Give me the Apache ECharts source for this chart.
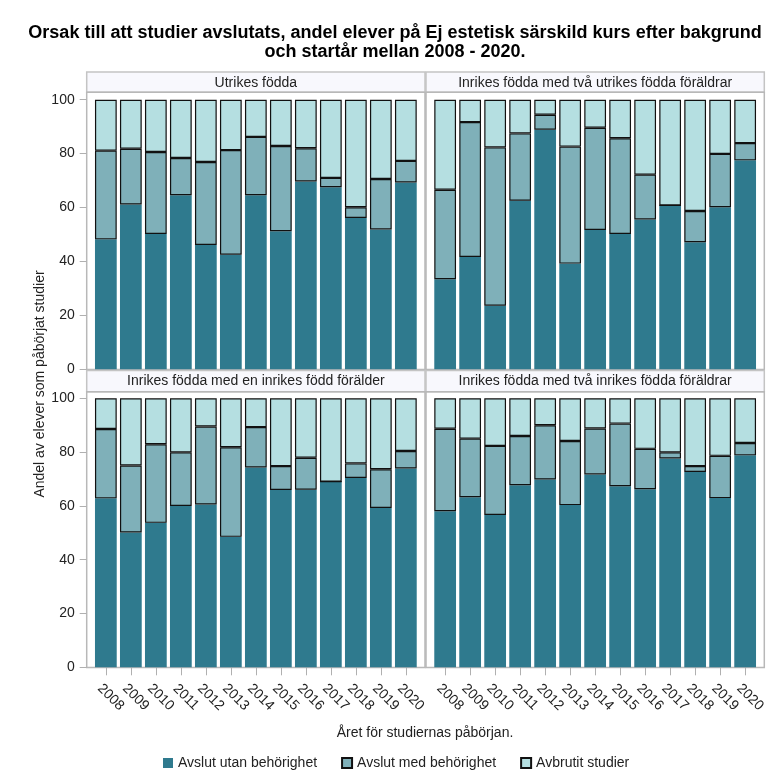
<!DOCTYPE html>
<html><head><meta charset="utf-8">
<script src="https://cdn.jsdelivr.net/npm/echarts@6/dist/echarts.min.js"></script>
<style>html,body{margin:0;padding:0;background:#fff}#c{width:774px;height:774px}</style>
</head><body><div id="c"></div>
<script>
const years = ['2008','2009','2010','2011','2012','2013','2014','2015','2016','2017','2018','2019','2020'];
const panelTitles = ['Utrikes födda','Inrikes födda med två utrikes födda föräldrar','Inrikes födda med en inrikes född förälder','Inrikes födda med två inrikes födda föräldrar'];
const seriesNames = ['Avslut utan behörighet','Avslut med behörighet','Avbrutit studier'];
const yTicks = [0,20,40,60,80,100];

// Utrikes födda
const utanUF = [48.2,61.1,50.2,64.6,46.1,42.5,64.6,51.2,69.7,67.5,56.1,51.9,69.3];
const medUF  = [32.9,20.7,30.4,13.8,30.8,38.8,21.6,31.6,12.3,3.5,4.0,18.7,8.0];
const avbrUF = [18.9,18.2,19.4,21.6,23.1,18.7,13.8,17.2,18.0,29.0,39.9,29.4,22.7];
// Inrikes födda med två utrikes födda föräldrar
const utanI2U = [33.4,41.7,23.6,62.5,88.9,39.2,51.7,50.2,55.6,60.8,47.1,60.1,77.5];
const medI2U  = [33.2,50.0,58.7,25.0,5.5,43.4,37.9,35.5,16.6,0,11.6,19.8,6.4];
const avbrI2U = [33.4,8.3,17.7,12.5,5.6,17.4,10.4,14.3,27.8,39.2,41.3,20.1,16.1];
// Inrikes födda med en inrikes född förälder
const utanI1 = [62.8,50.1,53.7,60.0,60.5,48.5,74.3,65.9,66.0,69.0,70.4,59.2,73.9];
const medI1  = [25.8,24.9,29.2,19.9,29.0,33.3,15.0,8.9,11.9,0,5.4,14.4,6.5];
const avbrI1 = [11.4,25.0,17.1,20.1,10.5,18.2,10.7,25.2,22.1,31.0,24.2,26.4,19.6];
// Inrikes födda med två inrikes födda föräldrar
const utanI2I = [58.0,63.2,56.6,67.7,69.8,60.3,71.7,67.3,66.2,77.6,72.6,62.9,78.8];
const medI2I  = [30.7,21.8,25.7,18.3,20.2,23.8,17.1,23.3,15.0,2.3,2.2,15.7,4.6];
const avbrI2I = [11.3,15.0,17.7,14.0,10.0,15.9,11.2,9.4,18.8,20.1,25.2,21.4,16.6];

const panelData = [[utanUF,medUF,avbrUF],[utanI2U,medI2U,avbrI2U],[utanI1,medI1,avbrI1],[utanI2I,medI2I,avbrI2I]];
const colors = ['#2F7A8E','#7FB0B9','#B5DFE1'];

const font = 'Liberation Sans, Arial, sans-serif';
const gridLeft = [93.35, 432.65];
const gridTop = [99.7, 398.3];
const gridH = [269.6, 269.0];
const panelLeft = [86.7, 426];
const panelW = 338.3;
const stripTop = [72, 370.5];
const stripH = [20.3, 21.2];
const panelBottom = [369.5, 667.5];

const grids = [], xAxes = [], yAxes = [], series = [], graphics = [];
for (let p = 0; p < 4; p++) {
  const r = Math.floor(p/2), c = p % 2;
  grids.push({left: gridLeft[c], top: gridTop[r], width: 325, height: gridH[r]});
  xAxes.push({
    type:'category', gridIndex:p, data: years, boundaryGap:true,
    axisLine:{show:false},
    axisTick:{show: r===1, alignWithLabel:true, length:8, lineStyle:{color:'#B0B0B0', width:1}},
    axisLabel:{show: r===1, interval:0, rotate:-45, fontSize:14, color:'#222', fontFamily:font, margin:25,
      align:'center', verticalAlign:'middle', padding:[0,0,0,14]}
  });
  yAxes.push({
    type:'value', gridIndex:p, min:0, max:100, interval:20, offset:6.65,
    splitLine:{show:false},
    axisLine:{show:false},
    axisTick:{show: c===0, length:7, lineStyle:{color:'#B0B0B0', width:1}},
    axisLabel:{show: c===0, fontSize:14, color:'#222', fontFamily:font, margin:12}
  });
  for (let s = 0; s < 3; s++) {
    series.push({
      name: seriesNames[s], type:'bar', stack:'st'+p, xAxisIndex:p, yAxisIndex:p,
      data: panelData[p][s], barCategoryGap:'13%',
      itemStyle: s===0 ? {color: colors[s]} : {color: colors[s], borderColor:'#111', borderWidth:1.2},
      emphasis:{disabled:true}, silent:true
    });
  }
  graphics.push({type:'rect', shape:{x:panelLeft[c], y:stripTop[r], width:panelW, height:stripH[r]},
    style:{fill:'#F8F8FD', stroke:'#C4C4C4', lineWidth:1.5}, z:-1});
  graphics.push({type:'text', x: panelLeft[c]+panelW/2, y: stripTop[r]+stripH[r]/2+0.5,
    style:{text: panelTitles[p], font:'14px '+font, fill:'#222', align:'center', verticalAlign:'middle'}});
  graphics.push({type:'rect', shape:{x:panelLeft[c], y:stripTop[r]+stripH[r], width:panelW, height:panelBottom[r]-stripTop[r]-stripH[r]},
    style:{fill:'none', stroke:'#B8B8B8', lineWidth:1.5}, z:-1});
}
graphics.push({type:'text', x:395, y:33, style:{text:'Orsak till att studier avslutats, andel elever på Ej estetisk särskild kurs efter bakgrund', font:'bold 18px '+font, fill:'#000', align:'center', verticalAlign:'middle'}});
graphics.push({type:'text', x:395, y:52, style:{text:'och startår mellan 2008 - 2020.', font:'bold 18px '+font, fill:'#000', align:'center', verticalAlign:'middle'}});
graphics.push({type:'text', x:425, y:733, style:{text:'Året för studiernas påbörjan.', font:'14px '+font, fill:'#222', align:'center', verticalAlign:'middle'}});
graphics.push({type:'text', x:40, y:384, rotation:Math.PI/2, style:{text:'Andel av elever som påbörjat studier', font:'14px '+font, fill:'#222', align:'center', verticalAlign:'middle'}});

const chart = echarts.init(document.getElementById('c'), null, {renderer:'canvas'});
chart.setOption({
  animation:false,
  grid: grids, xAxis: xAxes, yAxis: yAxes, series: series,
  legend:{data: seriesNames, left:158, top:751, itemWidth:10, itemHeight:10, itemGap:24, icon:'rect',
    textStyle:{fontSize:14, color:'#222', fontFamily:font}},
  graphic: graphics
});
</script></body></html>
